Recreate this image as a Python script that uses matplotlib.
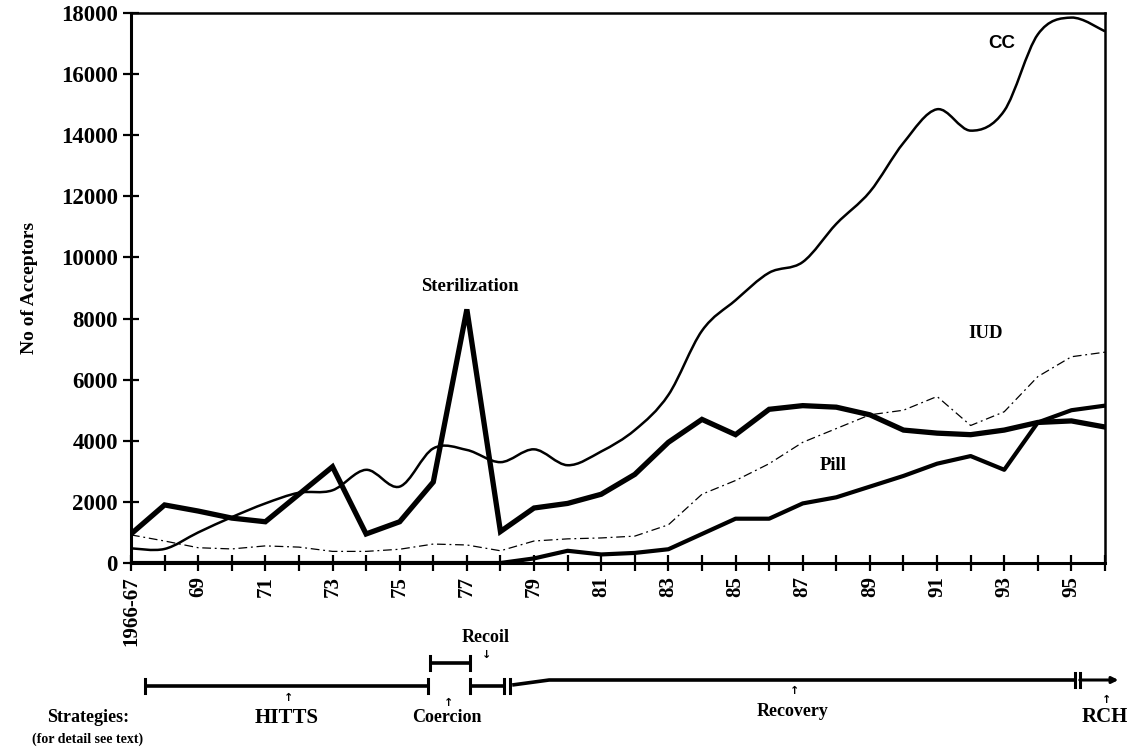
import matplotlib.pyplot as plt
from matplotlib.path import Path
from matplotlib.patches import PathPatch
from matplotlib.transforms import blended_transform_factory

# x categories: 1966-67 ... 1995-96 (index positions on a category axis)
years = ['1966-67', '68', '69', '70', '71', '72', '73', '74', '75', '76',
         '77', '78', '79', '80', '81', '82', '83', '84', '85', '86',
         '87', '88', '89', '90', '91', '92', '93', '94', '95', '96']
shown_labels = ['1966-67', '69', '71', '73', '75', '77', '79',
                '81', '83', '85', '87', '89', '91', '93', '95']

cc = [480, 460, 1000, 1500, 1950, 2300, 2380, 3050, 2500, 3750,
      3700, 3300, 3720, 3200, 3650, 4350, 5500, 7600, 8600, 9500,
      9850, 11100, 12150, 13750, 14850, 14150, 14800, 17300, 17850, 17400]
sterilization = [950, 1900, 1700, 1470, 1350, 2250, 3150, 950, 1350, 2650,
                 8300, 1030, 1800, 1950, 2250, 2900, 3950, 4700, 4200, 5030,
                 5150, 5100, 4850, 4350, 4250, 4200, 4350, 4600, 4650, 4450]
iud = [920, 720, 500, 460, 560, 520, 380, 380, 450, 620,
       590, 400, 720, 790, 820, 880, 1250, 2250, 2700, 3250,
       3950, 4400, 4850, 5000, 5450, 4500, 4950, 6100, 6750, 6900]
pill = [0, 0, 0, 0, 0, 0, 0, 0, 0, 0,
        0, 0, 150, 400, 280, 330, 450, 950, 1450, 1450,
        1950, 2150, 2500, 2850, 3250, 3500, 3050, 4600, 5000, 5150]

# strategy periods on the same category scale
strategies = ['HITTS', 'Coercion', 'Recoil', 'Recovery', 'RCH']
strat_start = [0.42, 8.9, 10.1, 11.35, 28.25]
strat_end = [8.84, 10.1, 11.1, 28.1, 29.4]

plt.rcParams['font.family'] = ['Liberation Serif', 'DejaVu Sans']
plt.rcParams['font.weight'] = 'bold'


def smooth_path(xs, ys):
    # Excel-like smoothed line: cubic Bezier through every data point
    n = len(xs)
    verts = [(xs[0], ys[0])]
    codes = [Path.MOVETO]
    for i in range(n - 1):
        a = max(i - 1, 0)
        b = min(i + 2, n - 1)
        c1 = (xs[i] + (xs[i + 1] - xs[a]) / 6, ys[i] + (ys[i + 1] - ys[a]) / 6)
        c2 = (xs[i + 1] - (xs[b] - xs[i]) / 6, ys[i + 1] - (ys[b] - ys[i]) / 6)
        verts += [c1, c2, (xs[i + 1], ys[i + 1])]
        codes += [Path.CURVE4] * 3
    return Path(verts, codes)


W, H = 1129, 751
fig = plt.figure(figsize=(W / 100, H / 100), dpi=100)
ax = fig.add_axes([131 / W, 1 - 563 / H, (1105 - 131) / W, (563 - 13) / H])

x = list(range(len(years)))
ax.add_patch(PathPatch(smooth_path(x, cc), fill=False, edgecolor='black',
                       lw=1.8))
ax.plot(x, iud, color='black', lw=0.9, linestyle=(0, (7, 3, 1.5, 3)))
ax.plot(x, sterilization, color='black', lw=3.8, solid_joinstyle='miter')
ax.plot(x, pill, color='black', lw=3.0)

ax.set_xlim(0, len(years) - 1)
ax.set_ylim(0, 18000)
ax.set_xticks(x)
ax.set_xticklabels([y if y in shown_labels else '' for y in years])
ax.set_yticks(range(0, 18001, 2000))
ax.tick_params(axis='both', direction='inout', length=11, width=1.6,
               labelsize=15, pad=5)
ax.tick_params(axis='y', labelsize=16.5, pad=4)
ax.tick_params(axis='x', labelrotation=90, pad=4)
ax.spines['left'].set_linewidth(2.2)
ax.spines['bottom'].set_linewidth(2.2)
ax.spines['top'].set_linewidth(1.8)
ax.spines['right'].set_linewidth(1.8)

ax.set_ylabel('No of Acceptors', fontsize=14, fontweight='bold')
ax.yaxis.set_label_coords(-93 / 974, 0.5)

ax.text(10.1, 9050, 'Sterilization', fontsize=13.5, ha='center', va='center')
ax.text(25.93, 17000, 'CC', fontsize=13.5, ha='center', va='center',
        family='Liberation Sans')
ax.text(25.45, 7500, 'IUD', fontsize=13.5, ha='center', va='center')
ax.text(20.9, 3180, 'Pill', fontsize=13.5, ha='center', va='center')

# strategies timeline below the axis
tr = blended_transform_factory(ax.transData, fig.transFigure)


def fy(px):
    return 1 - px / H


kw = dict(color='black', lw=2.6, transform=tr, clip_on=False,
          solid_capstyle='butt')
tick_kw = dict(color='black', lw=2.2, transform=tr, clip_on=False)

# HITTS
ax.plot([strat_start[0], strat_end[0]], [fy(686), fy(686)], **kw)
for xx in (strat_start[0], strat_end[0]):
    ax.plot([xx, xx], [fy(679), fy(693)], **tick_kw)
# Coercion (raised bracket)
ax.plot([strat_start[1], strat_end[1]], [fy(663), fy(663)], **kw)
for xx in (strat_start[1], strat_end[1]):
    ax.plot([xx, xx], [fy(656), fy(670)], **tick_kw)
# Recoil
ax.plot([strat_start[2], strat_end[2]], [fy(686), fy(686)], **kw)
for xx in (strat_start[2], strat_end[2], strat_end[2] + 0.17):
    ax.plot([xx, xx], [fy(679), fy(693)], **tick_kw)
# Recovery
ax.plot([strat_start[3], strat_start[3] + 1.1, strat_end[3]],
        [fy(685), fy(680), fy(680)], **kw)
for xx in (strat_end[3], strat_end[3] + 0.15):
    ax.plot([xx, xx], [fy(673), fy(687)], **tick_kw)
# RCH with arrow head
ax.annotate('', xy=(strat_end[4], fy(680)), xytext=(strat_start[4], fy(680)),
            xycoords=tr, textcoords=tr, annotation_clip=False,
            arrowprops=dict(arrowstyle='-|>', color='black', lw=2.2,
                            mutation_scale=9, shrinkA=0, shrinkB=0))

label_y = [718, 718, 637, 712, 717]
arrow_y = [698, 703, 655, 691, 700]
arrow_c = ['↑', '↑', '↓', '↑', '↑']
label_x = [(strat_start[0] + strat_end[0]) / 2, strat_start[1] + 0.5,
           strat_start[2] + 0.45, 19.7, 29.0]
for name, lx, ly, ay, ac in zip(strategies, label_x, label_y, arrow_y, arrow_c):
    fs = 15 if name in ('HITTS', 'RCH') else 13
    ax.text(lx, fy(ly), name, transform=tr, fontsize=fs, ha='center',
            va='center')
    ax.text(lx + 0.05, fy(ay), ac, transform=tr, fontsize=8, ha='center',
            va='center', family='DejaVu Sans')

fig.text(88 / W, fy(717), 'Strategies:', fontsize=13, ha='center', va='center')
fig.text(88 / W, fy(739), '(for detail see text)', fontsize=10, ha='center',
         va='center')

fig.savefig('out.png', dpi=100, facecolor='white')
